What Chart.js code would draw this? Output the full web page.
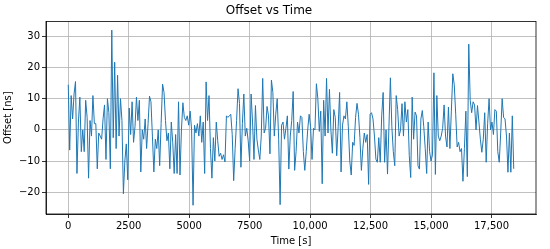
<!DOCTYPE html>
<html>
<head>
<meta charset="utf-8">
<script src="https://cdn.jsdelivr.net/npm/chart.js@4.4.1/dist/chart.umd.min.js"></script>
<style>
html,body{margin:0;padding:0;background:#fff;}
#wrap{width:550px;height:249px;}
</style>
</head>
<body>
<div id="wrap"><canvas id="c" width="550" height="249"></canvas></div>
<script>
const times = [
0,60,120,180,240,300,360,420,480,540,
600,660,720,780,840,900,960,1020,1080,1140,
1200,1260,1320,1380,1440,1500,1560,1620,1680,1740,
1800,1860,1920,1980,2040,2100,2160,2220,2280,2340,
2400,2460,2520,2580,2640,2700,2760,2820,2880,2940,
3000,3060,3120,3180,3240,3300,3360,3420,3480,3540,
3600,3660,3720,3780,3840,3900,3960,4020,4080,4140,
4200,4260,4320,4380,4440,4500,4560,4620,4680,4740,
4800,4860,4920,4980,5040,5100,5160,5220,5280,5340,
5400,5460,5520,5580,5640,5700,5760,5820,5880,5940,
6000,6060,6120,6180,6240,6300,6360,6420,6480,6540,
6600,6660,6720,6780,6840,6900,6960,7020,7080,7140,
7200,7260,7320,7380,7440,7500,7560,7620,7680,7740,
7800,7860,7920,7980,8040,8100,8160,8220,8280,8340,
8400,8460,8520,8580,8640,8700,8760,8820,8880,8940,
9000,9060,9120,9180,9240,9300,9360,9420,9480,9540,
9600,9660,9720,9780,9840,9900,9960,10020,10080,10140,
10200,10260,10320,10380,10440,10500,10560,10620,10680,10740,
10800,10860,10920,10980,11040,11100,11160,11220,11280,11340,
11400,11460,11520,11580,11640,11700,11760,11820,11880,11940,
12000,12060,12120,12180,12240,12300,12360,12420,12480,12540,
12600,12660,12720,12780,12840,12900,12960,13020,13080,13140,
13200,13260,13320,13380,13440,13500,13560,13620,13680,13740,
13800,13860,13920,13980,14040,14100,14160,14220,14280,14340,
14400,14460,14520,14580,14640,14700,14760,14820,14880,14940,
15000,15060,15120,15180,15240,15300,15360,15420,15480,15540,
15600,15660,15720,15780,15840,15900,15960,16020,16080,16140,
16200,16260,16320,16380,16440,16500,16560,16620,16680,16740,
16800,16860,16920,16980,17040,17100,17160,17220,17280,17340,
17400,17460,17520,17580,17640,17700,17760,17820,17880,17940,
18000,18060,18120,18180,18240,18300,18360,18420
];
const offsets = [
14.5,-6.5,11,3.5,11.5,15.5,-14,2.5,10.5,-7,
0,-7,9.5,4,-15.5,3,-2,11,2,2,
-12.5,-1,-2,-3,3.5,8,-9.5,10,5.5,-12.5,
32,-2.5,21.7,-6,17.5,-2,10,3,-20.5,-10,
-4.5,-16,7,-1.5,9,-4,1,10.5,3,9.5,
-13.5,0,-3,3.5,-6,2,10.8,9,-2,-13.5,
-3,-6,0,-11.5,2,14.7,12,3,-3.5,-1,
-12.5,2.5,-4,-14,-1.5,-14,9,-14.5,0,8.7,
4,3,4.5,1.5,6,0,-24.2,1.5,-1,2,
-2,4.5,-4,2.5,-14,15.4,3,11,-6,-15.5,
-2.5,-10,2.5,-3.5,-8.5,-7.5,-9.5,-8,-10.3,4.5,
4,4.5,5,-1.5,-16.3,-6,3,13.2,8.5,-12,
2,11.5,-2,0.5,-3.5,-10,11.5,2.5,-9.5,7.8,
-3,-6.5,-9.5,-2,16.5,-1,0.5,7.5,4.5,-7.7,
16,12,-2,5,10,-3,-24,1.5,2.5,-3,
0.5,4.5,-12.6,-2,3,12.3,-13,-7,2.5,-1,
4.5,4,-7,-13,-7,0,5,1,-9.5,0.5,
0,14.8,10,-0.5,6,-17.3,9.5,-2,16.5,-1,
13,0,-7.5,6.5,4,-8.3,1,12,-13.5,1.5,
4.5,3.5,9,1,-10,-14.5,-4,-5,4,8.5,
5,-2.5,-13,-6,-1,-4,-1.5,-17.5,5,5.5,
3.5,-2,-9.4,-10.4,-2.5,-10.4,4.5,12,-10.4,0,
-14.2,1,16.7,1,-7,-11.5,11,6.5,-2,0,
8.4,-2,9,2.5,6.5,-8.3,-15.3,10.5,-3,5.7,
4.5,-11.5,-12.6,3.5,6.2,1,-6,-14,2.5,-7,
-10,-8,18.3,-14.3,11,-2,-3.5,-2,0.5,8,
-2,-5.5,7.3,-6,6,18,14.5,5,-5.5,-4,
-7,-6,-16.5,-6,6,-15,27.5,9.5,5.5,9,
8,0,7.8,2.5,-3,-7.2,-3,5.5,-10.4,2,
10,0,2.5,-1.5,6.5,6,-7,-10.4,-1,10,
4,3.5,-2,-13.6,-1,-13.6,4.5,-12.5
];
const xTickValues = [0,2500,5000,7500,10000,12500,15000,17500];
const xTickLabels = ['0','2500','5000','7500','10,000','12,500','15,000','17,500'];
const yTickValues = [-20,-10,0,10,20,30];
const yTickLabels = ['\u221220','\u221210','0','10','20','30'];

const FONT = '"DejaVu Sans", sans-serif';
const points = times.map((t,i)=>({x:t,y:offsets[i]}));

const framePlugin = {
  id:'frame',
  afterDatasetsDraw(chart){
    const a = chart.chartArea, ctx = chart.ctx;
    ctx.save();
    ctx.strokeStyle = '#000';
    ctx.lineWidth = 0.8;
    ctx.strokeRect(a.left, a.top, a.right-a.left, a.bottom-a.top);
    ctx.restore();
  }
};

new Chart(document.getElementById('c'), {
  type:'line',
  data:{datasets:[{
    data:points,
    borderColor:'#1f77b4',
    borderWidth:1,
    pointRadius:0,
    tension:0,
    fill:false
  }]},
  options:{
    responsive:false,
    devicePixelRatio:1,
    animation:false,
    layout:{padding:{left:2,right:14,top:0,bottom:0}},
    plugins:{
      legend:{display:false},
      tooltip:{enabled:false},
      title:{display:true,text:'Offset vs Time',color:'#000',
        font:{family:FONT,size:12,weight:'normal'},padding:{top:4,bottom:3}}
    },
    scales:{
      x:{
        type:'linear',min:-920,max:19340,
        afterBuildTicks(s){ s.ticks = xTickValues.map(v=>({value:v})); },
        afterFit(s){ s.height = 35; },
        ticks:{
          color:'#000',font:{family:FONT,size:10},padding:2,maxRotation:0,autoSkip:false,
          callback(v){ const i = xTickValues.indexOf(v); return i>=0 ? xTickLabels[i] : ''; }
        },
        grid:{color:'#b0b0b0',lineWidth:0.8,tickLength:4,tickColor:'#000',drawTicks:true},
        border:{display:true,color:'#000',width:0.8},
        title:{display:true,text:'Time [s]',color:'#000',font:{family:FONT,size:10},padding:{top:0,bottom:2}}
      },
      y:{
        type:'linear',min:-27,max:34.8,
        afterBuildTicks(s){ s.ticks = yTickValues.map(v=>({value:v})); },
        afterFit(s){ s.width = 44; },
        ticks:{
          color:'#000',font:{family:FONT,size:10},padding:2,
          callback(v){ const i = yTickValues.indexOf(v); return i>=0 ? yTickLabels[i] : ''; }
        },
        grid:{color:'#b0b0b0',lineWidth:0.8,tickLength:4,tickColor:'#000',drawTicks:true},
        border:{display:true,color:'#000',width:0.8},
        title:{display:true,text:'Offset [ns]',color:'#000',font:{family:FONT,size:10},padding:{top:0,bottom:1}}
      }
    }
  },
  plugins:[framePlugin]
});
</script>
</body>
</html>
